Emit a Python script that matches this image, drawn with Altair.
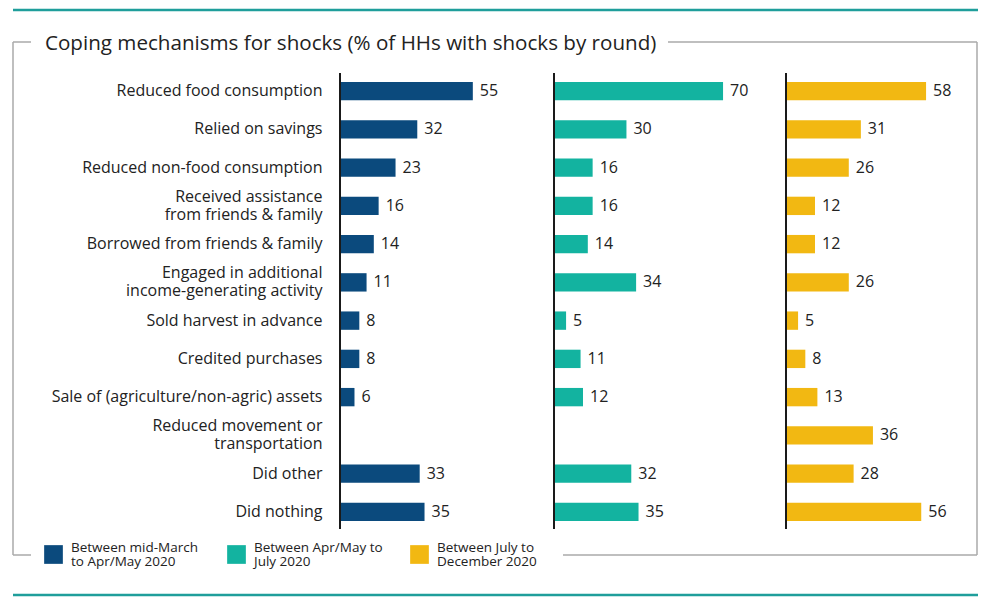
import altair as alt
import pandas as pd

# ---------------- data ----------------
categories = [
    "Reduced food consumption",
    "Relied on savings",
    "Reduced non-food consumption",
    "Received assistance\nfrom friends & family",
    "Borrowed from friends & family",
    "Engaged in additional\nincome-generating activity",
    "Sold harvest in advance",
    "Credited purchases",
    "Sale of (agriculture/non-agric) assets",
    "Reduced movement or\ntransportation",
    "Did other",
    "Did nothing",
]
round1 = [55, 32, 23, 16, 14, 11, 8, 8, 6, None, 33, 35]
round2 = [70, 30, 16, 16, 14, 34, 5, 11, 12, None, 32, 35]
round3 = [58, 31, 26, 12, 12, 26, 5, 8, 13, 36, 28, 56]

series_names = [
    "Between mid-March\nto Apr/May 2020",
    "Between Apr/May to\nJuly 2020",
    "Between July to\nDecember 2020",
]
series_colors = ["#0b4a7d", "#13b3a0", "#f2b812"]
title_text = "Coping mechanisms for shocks (% of HHs with shocks by round)"

# ---------------- styling / layout ----------------
FONT = "Open Sans"
TEXT = "#222222"
FRAME = "#aaaaaa"
TEAL_LINE = "#1f9e9b"
PX_PER_UNIT = 2.415
PANEL_W = [214, 232, 192]
PLOT_H = 459


def panel_df(values, series):
    rows = [
        {"category": c, "value": v, "series": series}
        for c, v in zip(categories, values)
        if v is not None
    ]
    return pd.DataFrame(rows)


legend = alt.Legend(
    title=None,
    orient="none",
    legendX=-296,
    legendY=473,
    direction="horizontal",
    columns=3,
    gridAlign="all",
    columnPadding=27,
    symbolType="square",
    symbolSize=350,
    symbolStrokeWidth=0,
    symbolOpacity=1,
    labelFont=FONT,
    labelFontSize=13.5,
    labelColor=TEXT,
    labelBaseline="line-bottom",
    labelExpr="split(datum.label, '\\n')",
    labelLimit=0,
    labelOffset=8,
    padding=0,
)

deco = alt.Chart(alt.Data(values=[{"k": 0}]))


def hrule(x1, x2, y, color, w):
    return deco.mark_rule(color=color, strokeWidth=w).encode(
        x=alt.value(x1), x2=alt.value(x2), y=alt.value(y)
    )


def vrule(x, y1, y2, color, w):
    return deco.mark_rule(color=color, strokeWidth=w).encode(
        x=alt.value(x), y=alt.value(y1), y2=alt.value(y2)
    )


def panel(i, values, first):
    df = panel_df(values, series_names[i])
    if first:
        y_axis = alt.Axis(
            title=None,
            ticks=False,
            domain=False,
            labelPadding=18,
            labelFont=FONT,
            labelFontSize=16,
            labelColor=TEXT,
            labelLimit=0,
            labelLineHeight=18,
            labelBaseline={
                "condition": {
                    "test": "indexof(datum.value, '\\n') >= 0",
                    "value": "line-bottom",
                },
                "value": "middle",
            },
            labelExpr="split(datum.label, '\\n')",
        )
    else:
        y_axis = None
    base = alt.Chart(df).encode(
        y=alt.Y(
            "category:N",
            scale=alt.Scale(domain=categories, paddingInner=0.52, paddingOuter=0.26),
            axis=y_axis,
        ),
        x=alt.X(
            "value:Q",
            scale=alt.Scale(domain=[0, PANEL_W[i] / PX_PER_UNIT], nice=False, zero=True),
            axis=None,
        ),
    )
    bars = base.mark_bar().encode(
        color=alt.Color(
            "series:N",
            scale=alt.Scale(domain=series_names, range=series_colors),
            legend=legend,
        )
    )
    labels = base.mark_text(
        align="left", baseline="middle", dx=7, font=FONT, fontSize=16, color=TEXT
    ).encode(text=alt.Text("value:Q", format="d"))
    axis_line = vrule(0, 1, PLOT_H - 2, "#1a1a1a", 2)
    layers = [bars, labels, axis_line]
    if first:
        layers += [
            # teal lines top & bottom
            hrule(-327, 638, -62, TEAL_LINE, 2.5),
            hrule(-327, 638, 523, TEAL_LINE, 2.5),
            # grey frame
            vrule(-327, -30, 483, FRAME, 1.5),
            vrule(637, -30, 483, FRAME, 1.5),
            hrule(-327, -309, -30, FRAME, 1.5),
            hrule(328, 637, -30, FRAME, 1.5),
            hrule(-327, -309, 483, FRAME, 1.5),
            hrule(223, 637, 483, FRAME, 1.5),
            # title
            deco.mark_text(
                align="left", baseline="middle", font=FONT, fontSize=20.6, color=TEXT
            ).encode(x=alt.value(-295), y=alt.value(-28), text=alt.value(title_text)),
        ]
    return alt.layer(*layers).properties(width=PANEL_W[i], height=PLOT_H)


chart = (
    alt.hconcat(
        panel(0, round1, True),
        panel(1, round2, False),
        panel(2, round3, False),
        spacing=0,
        bounds="flush",
    )
    .properties(padding={"left": 3, "top": 0, "right": 5, "bottom": 2})
    .configure(
        view={"strokeWidth": 0},
        style={"guide-label": {"lineHeight": 14}},
    )
)

chart.save("out.html", embed_options={"renderer": "svg", "actions": False})
